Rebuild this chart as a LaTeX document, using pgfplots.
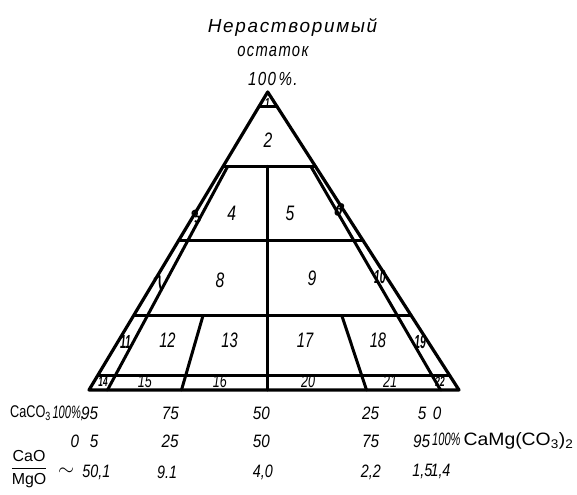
\documentclass[border=0pt]{standalone}
\usepackage{fontspec}
\setmainfont{Liberation Sans}
\usepackage{amsmath}
\usepackage{graphicx}
\usepackage{pgfplots}
\pgfplotsset{compat=1.18}

% x: position along the base (CaMg(CO3)2 share, %), y: insoluble residue, %
% the drawing is slightly sheared: apex above x = 48.3
\newcommand\fA{\fontsize{21}{22}\selectfont\itshape}
\newcommand\fB{\fontsize{18}{19}\selectfont\itshape}
\newcommand\fC{\fontsize{19}{20}\selectfont\itshape\bfseries}
\newcommand\fT{\fontsize{19}{20}\selectfont\itshape\addfontfeature{LetterSpace=9}}
\newcommand\cn[2]{\scalebox{#1}[1]{#2}}

\begin{document}
\begin{tikzpicture}
\begin{axis}[
  x=3.7bp, y=2.98bp,
  xmin=-24.05, xmax=131.89, ymin=-34.9, ymax=130.87,
  axis lines=box, axis line style={draw=none}, ticks=none,
  clip=false,
  tl/.style={black, line width=3bp, line cap=round, line join=round, mark=none},
]
\path (rel axis cs:0,0) rectangle (rel axis cs:1,1);

% outer triangle
\addplot[tl, line width=3.2bp] coordinates {(0,0)(100,0)(48.3,100)} -- cycle;
% levels of insoluble residue: 95, 75, 50, 25, 5 %
\addplot[tl] coordinates {(45.885,95)(50.885,95)};
\addplot[tl] coordinates {(36.225,75)(61.225,75)};
\addplot[tl] coordinates {(24.15,50)(74.15,50)};
\addplot[tl] coordinates {(12.075,25)(87.075,25)};
\addplot[tl] coordinates {(2.415,5)(97.415,5)};
% rays of constant CaCO3 : CaMg(CO3)2 ratio
\addplot[tl] coordinates {(37.475,75)(5,0)};
\addplot[tl] coordinates {(59.975,75)(95,0)};
\addplot[tl] coordinates {(48.3,75)(48.3,0)};
\addplot[tl] coordinates {(30.825,25)(25,0)};
\addplot[tl] coordinates {(68.325,25)(75,0)};

% title
\node[font=\fT] at (55.0,121.5) {Нерастворимый};
\node[font=\fT] at (49.7,113.5) {\cn{0.78}{остаток}};
\node[font=\fT] at (49.7,104.5) {\cn{0.8}{100\,\%.}};

% region numbers
\node[font=\fontsize{13}{14}\selectfont\itshape\bfseries] at (48.2,96.2) {\cn{0.7}{1}};
\node[font=\fA] at (48.4,83.9) {\cn{0.75}{2}};
\node[font=\fC, rotate=30] at (28.9,58) {\cn{0.75}{3}};
\node[font=\fA] at (38.6,59.4) {\cn{0.75}{4}};
\node[font=\fA] at (54.3,59.4) {\cn{0.75}{5}};
\node[font=\fC, rotate=-20] at (67.6,60.4) {\cn{0.75}{6}};
\node[font=\fC, rotate=30] at (19.0,36) {\cn{0.75}{7}};
\node[font=\fA] at (35.4,36.9) {\cn{0.75}{8}};
\node[font=\fA] at (60.3,37.6) {\cn{0.75}{9}};
\node[font=\fC] at (78.6,38) {\cn{0.55}{10}};
\node[font=\fC] at (9.9,16) {\cn{0.55}{11}};
\node[font=\fA] at (21.2,16.6) {\cn{0.7}{12}};
\node[font=\fA] at (38.0,16.8) {\cn{0.7}{13}};
\node[font=\fA] at (58.4,16.8) {\cn{0.7}{17}};
\node[font=\fA] at (78.1,16.8) {\cn{0.7}{18}};
\node[font=\fC] at (89.5,16) {\cn{0.55}{19}};
\node[font=\fontsize{14}{15}\selectfont\itshape\bfseries] at (3.8,2.9) {\cn{0.6}{14}};
\node[font=\fB] at (15.1,2.9) {\cn{0.7}{15}};
\node[font=\fB] at (35.4,2.9) {\cn{0.7}{16}};
\node[font=\fB] at (59.2,2.9) {\cn{0.7}{20}};
\node[font=\fB] at (81.4,2.9) {\cn{0.7}{21}};
\node[font=\fontsize{14}{15}\selectfont\itshape\bfseries] at (94.9,2.9) {\cn{0.6}{22}};

% CaCO3 scale
\node[font=\fontsize{17}{18}\selectfont, anchor=west, inner sep=0pt] at (-21.35,-7.7) {\cn{0.75}{CaCO\textsubscript{3}}};
\node[font=\fB, anchor=west, inner sep=0pt] at (-9.9,-7.7) {\cn{0.62}{100\%,}};
\node[font=\fB] at (0.14,-7.7) {\cn{0.85}{95}};
\node[font=\fB] at (22.0,-7.7) {\cn{0.85}{75}};
\node[font=\fB] at (46.6,-7.7) {\cn{0.85}{50}};
\node[font=\fB] at (76.1,-7.7) {\cn{0.85}{25}};
\node[font=\fB] at (90.0,-7.7) {\cn{0.85}{5}};
\node[font=\fB] at (94.05,-7.7) {\cn{0.85}{0}};
% CaMg(CO3)2 scale
\node[font=\fB] at (-3.8,-17.1) {\cn{0.85}{0}};
\node[font=\fB] at (1.4,-17.1) {\cn{0.85}{5}};
\node[font=\fB] at (21.9,-17.1) {\cn{0.85}{25}};
\node[font=\fB] at (46.6,-17.1) {\cn{0.85}{50}};
\node[font=\fB] at (76.1,-17.1) {\cn{0.85}{75}};
\node[font=\fB] at (89.9,-17.1) {\cn{0.85}{95}};
\node[font=\fB, anchor=west, inner sep=0pt] at (92.7,-17.1) {\cn{0.62}{100\%}\,\cn{1.08}{\upshape CaMg(CO\textsubscript{3})\textsubscript{2}}};
% CaO/MgO ratio
\node[font=\fontsize{16}{17}\selectfont] at (-16.2,-26.5) {$\dfrac{\mbox{CaO}}{\mbox{MgO}}$};
\node[font=\fontsize{22}{22}\selectfont] at (-6.2,-27.3) {$\sim$};
\node[font=\fB] at (2.0,-27.5) {\cn{0.8}{50,1}};
\node[font=\fB] at (21.1,-27.5) {\cn{0.8}{9.1}};
\node[font=\fB] at (47.0,-27.5) {\cn{0.8}{4,0}};
\node[font=\fB] at (76.2,-27.5) {\cn{0.8}{2,2}};
\node[font=\fB] at (90.1,-27.5) {\cn{0.8}{1,5}};
\node[font=\fB] at (95.0,-27.5) {\cn{0.8}{1,4}};
\end{axis}
\end{tikzpicture}
\end{document}
